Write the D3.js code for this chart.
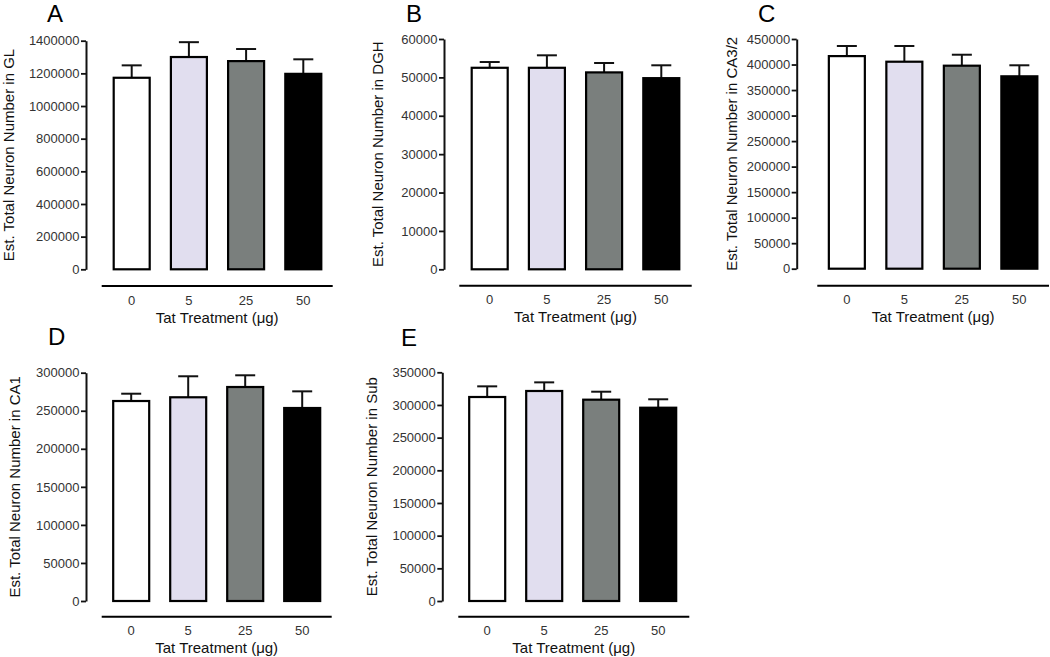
<!DOCTYPE html>
<html><head><meta charset="utf-8">
<script src="https://cdn.jsdelivr.net/npm/d3@7"></script>
<style>
body{margin:0;background:#fff;}
svg{display:block;font-family:"Liberation Sans",Arial,sans-serif;}
</style></head>
<body><svg id="chart" width="1050" height="657"></svg>
<script>
const categories = ["0","5","25","50"];
const fills = ["#ffffff","#e1deef","#7a7f7d","#000000"];

const panelLetters = ["A","B","C","D","E"];
const yLabels = [
  "Est. Total Neuron Number in GL",
  "Est. Total Neuron Number in DGH",
  "Est. Total Neuron Number in CA3/2",
  "Est. Total Neuron Number in CA1",
  "Est. Total Neuron Number in Sub"
];
const xTitle = "Tat Treatment (\u03bcg)";

// means and upper error (mean + SEM)
const meansGL  = [1173000, 1300000, 1275000, 1197000];
const errGL    = [1249000, 1391000, 1349000, 1286000];
const meansDGH = [52500, 52500, 51300, 49800];
const errDGH   = [54000, 55750, 53750, 53150];
const meansCA3 = [416500, 405500, 397700, 376900];
const errCA3   = [436300, 436300, 419200, 398500];
const meansCA1 = [262800, 267700, 281200, 253600];
const errCA1   = [272400, 295300, 296600, 275500];
const meansSub = [312200, 321400, 308100, 295800];
const errSub   = [328500, 334600, 320300, 308700];

const yMax  = [1400000, 60000, 450000, 300000, 350000];
const yStep = [200000, 10000, 50000, 50000, 50000];

const meansAll = [meansGL, meansDGH, meansCA3, meansCA1, meansSub];
const errAll   = [errGL, errDGH, errCA3, errCA1, errSub];

// layout (pixels)
const layout = [
  {axisX:86,    r0:103.1, step:57.2, lx0:101.7, lx1:332.7, top:40.7, bottom:269.3, lineY:286,   labX:14,  letterX:47,  letterY:22},
  {axisX:444,   r0:461.1, step:57.2, lx0:459.3, lx1:691.7, top:39,   bottom:269.3, lineY:285.7, labX:383, letterX:406, letterY:22},
  {axisX:796.7, r0:818.1, step:57.5, lx0:817.3, lx1:1049,  top:39,   bottom:268.7, lineY:285.7, labX:737, letterX:758, letterY:22},
  {axisX:86,    r0:102.7, step:57,   lx0:101.7, lx1:331.7, top:372.7,bottom:601,   lineY:616.7, labX:20,  letterX:48,  letterY:345},
  {axisX:442.3, r0:458.7, step:57,   lx0:458.3, lx1:689.3, top:372.3,bottom:601,   lineY:616.7, labX:377, letterX:401, letterY:346}
];

const svg = d3.select("#chart");
const bw = 36;

layout.forEach((L, i) => {
  const g = svg.append("g");
  const p = 1 - bw / L.step;
  const x = d3.scaleBand().domain(categories)
    .range([L.r0, L.r0 + 4 * L.step]).paddingInner(p).paddingOuter(p / 2);
  const y = d3.scaleLinear().domain([0, yMax[i]]).range([L.bottom, L.top]);

  // y axis
  const yAxis = d3.axisLeft(y).tickValues(d3.range(0, yMax[i] + 1, yStep[i]))
    .tickFormat(d3.format("d")).tickSize(5).tickPadding(1.5).tickSizeOuter(0);
  const ya = g.append("g").attr("transform", `translate(${L.axisX},0)`).call(yAxis);
  ya.select(".domain").attr("stroke", "#111").attr("stroke-width", 2);
  ya.selectAll(".tick line").attr("stroke", "#111").attr("stroke-width", 1.8);
  ya.selectAll(".tick text").attr("font-size", 13).attr("fill", "#333")
    .attr("font-family", "Liberation Sans, Arial, sans-serif");

  // bars
  const data = categories.map((c, k) => ({c, m: meansAll[i][k], e: errAll[i][k], f: fills[k]}));
  // error bars (upper only)
  g.selectAll(".err").data(data).enter().append("line")
    .attr("x1", d => x(d.c) + x.bandwidth() / 2).attr("x2", d => x(d.c) + x.bandwidth() / 2)
    .attr("y1", d => y(d.m)).attr("y2", d => y(d.e))
    .attr("stroke", "#111").attr("stroke-width", 2);
  g.selectAll(".cap").data(data).enter().append("line")
    .attr("x1", d => x(d.c) + x.bandwidth() / 2 - 10).attr("x2", d => x(d.c) + x.bandwidth() / 2 + 10)
    .attr("y1", d => y(d.e)).attr("y2", d => y(d.e))
    .attr("stroke", "#111").attr("stroke-width", 2);
  g.selectAll(".bar").data(data).enter().append("rect")
    .attr("x", d => x(d.c)).attr("width", x.bandwidth())
    .attr("y", d => y(d.m)).attr("height", d => y(0) - y(d.m))
    .attr("fill", d => d.f).attr("stroke", "#000").attr("stroke-width", 2.2);

  // x axis line (separate, below)
  g.append("line").attr("x1", L.lx0).attr("x2", L.lx1).attr("y1", L.lineY).attr("y2", L.lineY)
    .attr("stroke", "#000").attr("stroke-width", 2);
  g.selectAll(".xt").data(categories).enter().append("text")
    .attr("x", d => x(d) + x.bandwidth() / 2).attr("y", L.lineY + 18.5)
    .attr("text-anchor", "middle").attr("font-size", 13).attr("fill", "#333").text(d => d);
  g.append("text").attr("x", (L.lx0 + L.lx1) / 2).attr("y", L.lineY + 36.5)
    .attr("text-anchor", "middle").attr("font-size", 15).attr("fill", "#111").text(xTitle);

  // y label
  g.append("text").attr("transform", `translate(${L.labX},${(L.top + L.bottom) / 2}) rotate(-90)`)
    .attr("text-anchor", "middle").attr("font-size", 15).attr("fill", "#111").text(yLabels[i]);

  // panel letter
  g.append("text").attr("x", L.letterX).attr("y", L.letterY)
    .attr("font-size", 24).attr("fill", "#000").text(panelLetters[i]);
});
</script></body></html>
